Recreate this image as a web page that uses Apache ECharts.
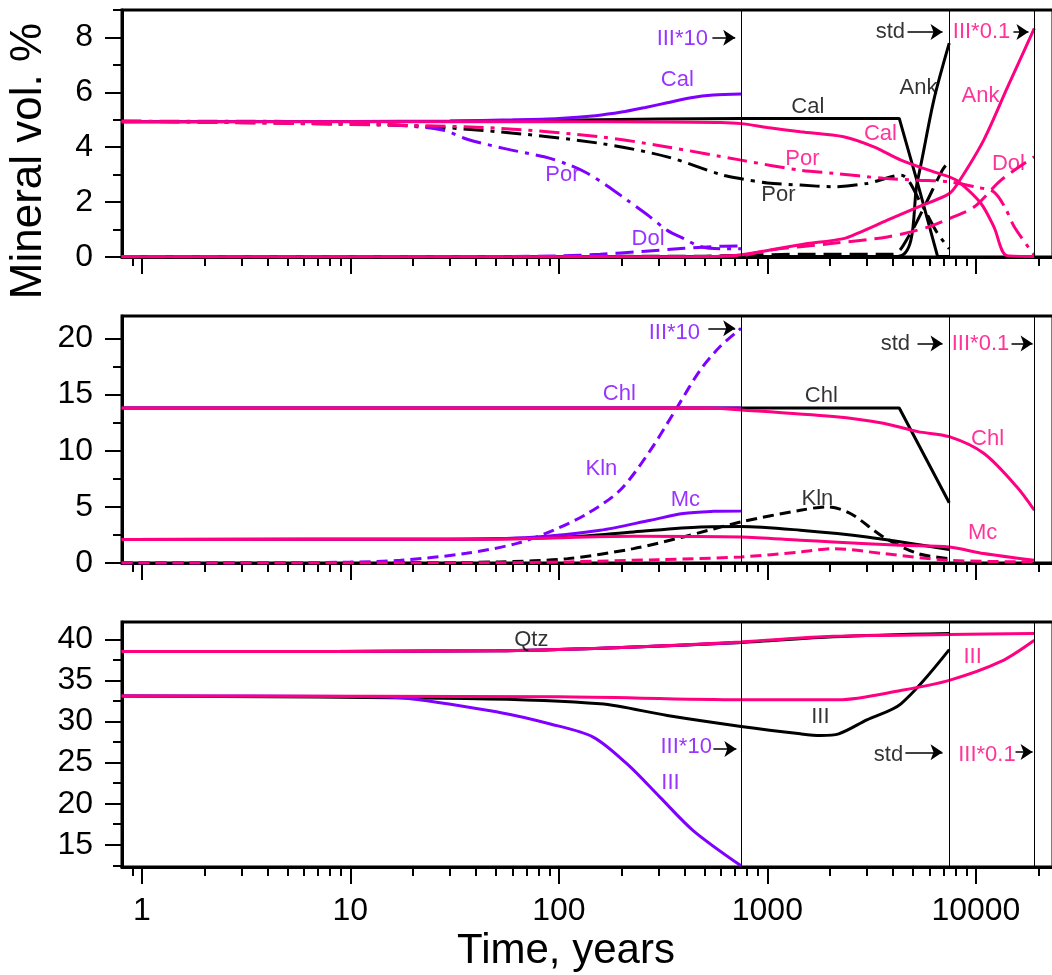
<!DOCTYPE html>
<html>
<head>
<meta charset="utf-8">
<script src="https://cdn.jsdelivr.net/npm/echarts@6/dist/echarts.min.js"></script>
<style>
html,body{margin:0;padding:0;background:#fff;}
#chart{width:1052px;height:975px;}
</style>
</head>
<body>
<div id="chart"></div>
<script>
var PURPLE = '#8000ff', BLACK = '#000000', PINK = '#ff0080';
var FONT = 'Liberation Sans';

// time axis (years, log)
var T_MIN = 0.8035, T_MAX = 23430;
var majorT = [1, 10, 100, 1000, 10000];
var minorT = [0.9, 2, 3, 4, 5, 6, 7, 8, 9, 20, 30, 40, 50, 60, 70, 80, 90,
  200, 300, 400, 500, 600, 700, 800, 900, 2000, 3000, 4000, 5000, 6000, 7000, 8000, 9000, 20000];
// end of the III*10, std and III*0.1 runs
var runEnds = [748, 7450, 19060];

// y ticks of the three panels
var y1Major = [0, 2, 4, 6, 8], y1Minor = [1, 3, 5, 7, 9];
var y2Major = [0, 5, 10, 15, 20], y2Minor = [2.5, 7.5, 12.5, 17.5];
var y3Major = [15, 20, 25, 30, 35, 40], y3Minor = [12.5, 17.5, 22.5, 27.5, 32.5, 37.5];

// ---- panel 1 : Cal, Dol, Ank, porosity ----
var calIII10 = [[0.8,4.93],[10,4.94],[30,4.96],[60,5.0],[100,5.05],[150,5.15],[200,5.28],[260,5.45],[331,5.62],[430,5.8],[550,5.9],[748,5.94]];
var porIII10 = [[0.8,4.95],[5,4.94],[10,4.9],[17,4.8],[28,4.62],[36,4.3],[55,3.95],[85,3.65],[110,3.38],[137,3.05],[170,2.6],[213,2.07],[270,1.5],[331,0.97],[395,0.68],[477,0.38],[600,0.3],[748,0.3]];
var dolIII10 = [[0.8,0.02],[60,0.02],[100,0.04],[158,0.1],[250,0.2],[400,0.32],[600,0.39],[748,0.4]];

var calStd = [[0.8,4.93],[30,4.95],[100,4.98],[300,5.03],[748,5.05],[4290,5.05],[5250,2.7],[6550,0.02],[7450,0.02]];
var porStd = [[0.8,4.95],[17,4.8],[52,4.56],[158,4.14],[331,3.65],[600,3.0],[748,2.85],[1000,2.7],[1440,2.62],[2070,2.56],[3000,2.68],[4370,2.98],[5500,1.9],[6500,0.9],[7450,0.3]];
var dolStd = [[0.8,0.01],[500,0.03],[748,0.06],[1500,0.1],[4000,0.1],[4800,0.8],[5800,2.0],[6900,3.16],[7450,3.5]];
var ankStd = [[0.8,0.01],[4220,0.02],[5250,2.79],[6280,5.71],[7450,7.79]];

var calIII01 = [[0.8,4.93],[100,4.93],[300,4.92],[595,4.9],[748,4.86],[1000,4.72],[1440,4.56],[2320,4.38],[3240,4.01],[4370,3.53],[6280,3.1],[7450,2.92],[8280,2.74],[10560,1.96],[12200,1.1],[14100,0.05],[19060,0.02]];
var porIII01 = [[0.8,4.95],[17,4.8],[52,4.69],[158,4.38],[331,4.01],[748,3.53],[1440,3.16],[2070,3.05],[3600,2.87],[5270,2.8],[7450,2.74],[10000,2.55],[12200,2.37],[13800,1.8],[15300,1.09],[19060,0.06]];
var ankIII01 = [[0.8,0.01],[300,0.01],[600,0.03],[748,0.08],[1440,0.45],[2320,0.67],[2700,0.86],[3760,1.34],[5270,1.82],[7450,2.31],[8280,2.74],[10900,4.26],[14200,6.2],[19060,8.33]];
var dolIII01 = [[0.8,0.01],[300,0.01],[748,0.05],[1000,0.24],[2070,0.5],[3760,0.73],[5900,1.09],[7450,1.4],[9800,1.82],[13200,2.8],[19060,3.65]];

// ---- panel 2 : Chl, Kln, Mc ----
var chlIII10 = [[0.8,13.8],[748,13.8]];
var klnIII10 = [[0.8,0],[5,0.02],[10,0.08],[17.4,0.24],[36,0.86],[63,1.75],[94.5,2.93],[137,4.4],[197,6.5],[275,10.05],[370,13.9],[477,17.2],[595,19.3],[748,20.9]];
var mcIII10 = [[0.8,2.1],[30,2.12],[75,2.3],[158,2.92],[275,3.81],[395,4.41],[550,4.6],[748,4.64]];

var chlStd = [[0.8,13.8],[4290,13.8],[7450,5.36]];
var klnStd = [[0.8,0],[20,0.02],[52,0.1],[110,0.39],[228,1.28],[395,2.32],[748,3.66],[1440,4.7],[1940,5.0],[2500,4.41],[3600,2.32],[5270,0.84],[7450,0.39]];
var mcStd = [[0.8,2.1],[30,2.12],[110,2.32],[228,2.77],[477,3.21],[748,3.25],[1440,2.92],[3000,2.32],[7450,1.2]];

var chlIII01 = [[0.8,13.8],[500,13.8],[748,13.63],[2070,13.04],[3600,12.45],[5270,11.7],[7450,11.25],[10900,9.77],[15700,6.79],[19060,4.7]];
var klnIII01 = [[0.8,0],[50,0.02],[110,0.1],[300,0.3],[748,0.54],[1440,0.98],[2070,1.28],[3600,0.84],[7450,0.24],[19060,0.1]];
var mcIII01 = [[0.8,2.1],[50,2.12],[228,2.38],[748,2.32],[1440,2.03],[2070,1.88],[4370,1.58],[7450,1.43],[10900,0.84],[19060,0.24]];

// ---- panel 3 : Qtz, Ill ----
var qtzIII10 = [[0.8,38.5],[50,38.6],[200,39.0],[748,39.6]];
var illIII10 = [[0.8,33.1],[10,33.05],[17.4,32.9],[52,31.1],[91,29.7],[146,28.1],[213,24.8],[306,20.77],[442,16.7],[748,12.44]];

var qtzStd = [[0.8,38.5],[50,38.6],[200,39.0],[748,39.6],[2070,40.3],[7450,40.7]];
var illStd = [[0.8,33.1],[36,32.8],[158,32.15],[331,30.73],[748,29.4],[1440,28.5],[1800,28.3],[2200,28.5],[3000,30.2],[4370,32.15],[7450,38.74]];

var qtzIII01 = [[0.8,38.5],[50,38.6],[200,39.0],[748,39.67],[2070,40.36],[7450,40.57],[19060,40.7]];
var illIII01 = [[0.8,33.1],[100,33.0],[748,32.65],[2200,32.65],[4370,33.78],[7450,35.0],[13200,37.3],[19060,39.88]];

// curve labels: text, time, value, colour
var labels1 = [
  ['III*10', 391, 7.93, PURPLE], ['Cal', 370, 6.44, PURPLE], ['Por', 104, 2.98, PURPLE], ['Dol', 268, 0.645, PURPLE],
  ['Cal', 1563, 5.47, BLACK], ['Por', 1129, 2.25, BLACK], ['Ank', 5310, 6.17, BLACK], ['std', 3890, 8.19, BLACK],
  ['Cal', 3484, 4.5, PINK], ['Por', 1473, 3.59, PINK], ['Ank', 10520, 5.86, PINK], ['Dol', 14320, 3.4, PINK], ['III*0.1', 10640, 8.19, PINK]
];
var labels2 = [
  ['III*10', 358, 20.5, PURPLE], ['Chl', 195, 15.08, PURPLE], ['Kln', 160, 8.41, PURPLE], ['Mc', 404, 5.65, PURPLE],
  ['Chl', 1815, 14.84, BLACK], ['Kln', 1738, 5.73, BLACK], ['std', 4110, 19.47, BLACK],
  ['Chl', 11380, 11.08, PINK], ['Mc', 10770, 2.67, PINK], ['III*0.1', 10520, 19.47, PINK]
];
var labels3 = [
  ['Qtz', 73.8, 39.9, BLACK], ['III*10', 408, 26.93, PURPLE], ['III', 343, 22.55, PURPLE],
  ['III', 1795, 30.51, BLACK], ['III', 9640, 37.88, PINK], ['std', 3810, 25.92, BLACK], ['III*0.1', 11300, 25.92, PINK]
];
// arrows: from time, to time, value
var arrows1 = [[545, 701, 7.99], [4700, 6918, 8.2], [15140, 17870, 8.2]];
var arrows2 = [[521, 701, 20.9], [5250, 6918, 19.56], [14820, 18700, 19.56]];
var arrows3 = [[551, 710, 26.65], [4590, 6918, 26.25], [15490, 18700, 26.29]];

var DASHDOT = [20, 7, 4, 7], DASH = [18, 8], SHORTDASH = [11, 6];

var chart = echarts.init(document.getElementById('chart'));

function curve(p, data, color, dash, smooth) {
  return {
    type: 'line', xAxisIndex: p, yAxisIndex: p, data: data,
    symbol: 'none', showSymbol: false, silent: true,
    smooth: smooth ? 0.3 : false,
    z: color === PINK ? 4 : (color === PURPLE ? 3 : 2),
    lineStyle: {color: color, width: 3, type: dash || 'solid'}
  };
}

function labelSeries(p, labels, arrows) {
  return {
    type: 'scatter', xAxisIndex: p, yAxisIndex: p, symbolSize: 0, silent: true, z: 10,
    data: labels.map(function (l) {
      return {name: l[0], value: [l[1], l[2]], label: {color: l[3]}};
    }),
    label: {show: true, position: 'inside', formatter: '{b}', fontSize: 22, fontFamily: FONT,
      textBorderWidth: 0, textBorderColor: 'transparent'},
    markLine: {
      silent: true, symbol: ['none', 'arrow'], symbolSize: 12, label: {show: false},
      lineStyle: {color: '#000', width: 1.5, type: 'solid'},
      data: arrows.map(function (a) { return [{coord: [a[0], a[2]]}, {coord: [a[1], a[2]]}]; })
    }
  };
}

function runLines(s) {
  s.markLine = {
    silent: true, symbol: 'none', label: {show: false},
    lineStyle: {color: '#000', width: 1, type: 'solid'},
    data: runEnds.map(function (t) { return {xAxis: t}; })
  };
  return s;
}

var grids = [
  {left: 122, top: 10, width: 931, height: 247},
  {left: 122, top: 316, width: 931, height: 247},
  {left: 122, top: 622, width: 931, height: 245}
].map(function (g) {
  g.show = true; g.borderColor = '#000'; g.borderWidth = 3; g.backgroundColor = 'transparent';
  g.outerBoundsMode = 'none'; g.containLabel = false;
  return g;
});

var yRanges = [[0, 9], [0, 22], [12.3, 42.1]];
var yMajors = [y1Major, y2Major, y3Major];
var yMinors = [y1Minor, y2Minor, y3Minor];

var xAxes = [], yAxes = [];
[0, 1, 2].forEach(function (i) {
  xAxes.push({
    type: 'log', gridIndex: i, min: T_MIN, max: T_MAX, position: 'bottom',
    axisLine: {onZero: false, lineStyle: {color: '#000', width: 3}},
    axisTick: {show: true, inside: false, length: 17, customValues: majorT, lineStyle: {color: '#000', width: 2}},
    axisLabel: {show: i === 2, customValues: majorT, fontSize: 32, color: '#000', margin: 28, fontFamily: FONT,
      formatter: function (v) { return String(Math.round(v)); }},
    splitLine: {show: false}, minorTick: {show: false}
  });
  yAxes.push({
    type: 'value', gridIndex: i, min: yRanges[i][0], max: yRanges[i][1], position: 'left',
    axisLine: {show: true, onZero: false, lineStyle: {color: '#000', width: 3}},
    axisTick: {show: true, inside: false, length: 17, customValues: yMajors[i], lineStyle: {color: '#000', width: 2}},
    axisLabel: {customValues: yMajors[i], fontSize: 32, color: '#000', margin: 29, fontFamily: FONT},
    splitLine: {show: false}
  });
});
[0, 1, 2].forEach(function (i) {
  xAxes.push({
    type: 'log', gridIndex: i, min: T_MIN, max: T_MAX, position: 'bottom',
    axisLine: {show: false, onZero: false},
    axisTick: {show: true, inside: false, length: 9, customValues: minorT, lineStyle: {color: '#000', width: 2}},
    axisLabel: {show: false}, splitLine: {show: false}
  });
  yAxes.push({
    type: 'value', gridIndex: i, min: yRanges[i][0], max: yRanges[i][1], position: 'left',
    axisLine: {show: false, onZero: false},
    axisTick: {show: true, inside: false, length: 9, customValues: yMinors[i], lineStyle: {color: '#000', width: 2}},
    axisLabel: {show: false}, splitLine: {show: false}
  });
});

var series = [
  runLines(curve(0, calStd, BLACK, null, false)),
  curve(0, porStd, BLACK, DASHDOT, true),
  curve(0, dolStd, BLACK, DASH, true),
  curve(0, ankStd, BLACK, null, true),
  curve(0, calIII10, PURPLE, null, true),
  curve(0, porIII10, PURPLE, DASHDOT, true),
  curve(0, dolIII10, PURPLE, DASH, true),
  curve(0, calIII01, PINK, null, true),
  curve(0, porIII01, PINK, DASHDOT, true),
  curve(0, ankIII01, PINK, null, true),
  curve(0, dolIII01, PINK, DASH, true),
  labelSeries(0, labels1, arrows1),

  runLines(curve(1, chlStd, BLACK, null, false)),
  curve(1, klnStd, BLACK, SHORTDASH, true),
  curve(1, mcStd, BLACK, null, true),
  curve(1, chlIII10, PURPLE, null, false),
  curve(1, klnIII10, PURPLE, SHORTDASH, true),
  curve(1, mcIII10, PURPLE, null, true),
  curve(1, chlIII01, PINK, null, true),
  curve(1, klnIII01, PINK, SHORTDASH, true),
  curve(1, mcIII01, PINK, null, true),
  labelSeries(1, labels2, arrows2),

  runLines(curve(2, qtzStd, BLACK, null, true)),
  curve(2, illStd, BLACK, null, true),
  curve(2, qtzIII10, PURPLE, null, true),
  curve(2, illIII10, PURPLE, null, true),
  curve(2, qtzIII01, PINK, null, true),
  curve(2, illIII01, PINK, null, true),
  labelSeries(2, labels3, arrows3)
];

chart.setOption({
  animation: false,
  backgroundColor: '#fff',
  textStyle: {fontFamily: FONT},
  grid: grids,
  xAxis: xAxes,
  yAxis: yAxes,
  series: series,
  graphic: [
    {type: 'text', x: 29, y: 161, rotation: Math.PI / 2,
      style: {text: 'Mineral vol. %', font: '44px "Liberation Sans"', fill: '#000', align: 'center', verticalAlign: 'middle'}},
    {type: 'text', x: 566, y: 951,
      style: {text: 'Time, years', font: '42px "Liberation Sans"', fill: '#000', align: 'center', verticalAlign: 'middle'}}
  ]
});
</script>
</body>
</html>
